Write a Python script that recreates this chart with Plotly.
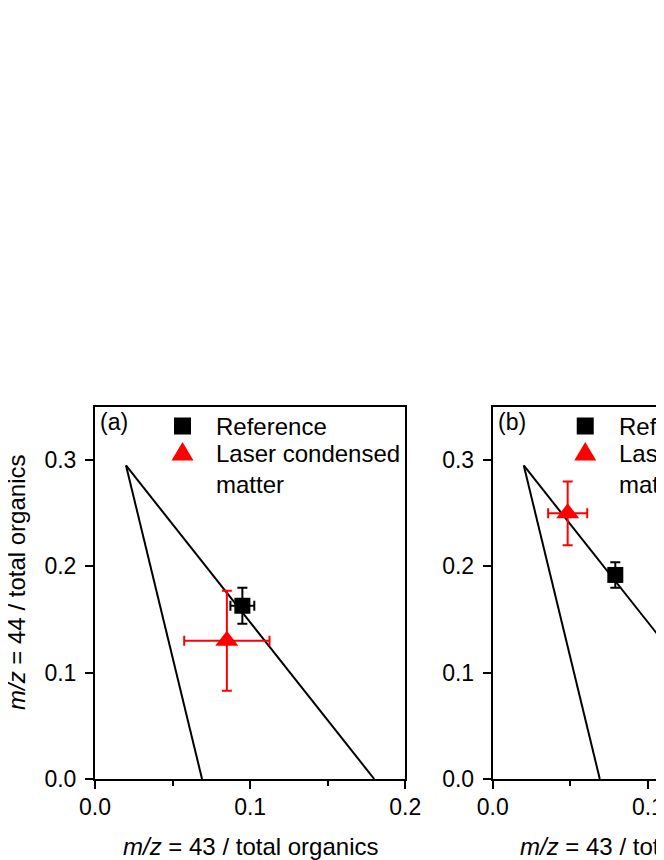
import plotly.graph_objects as go

# triangle guide lines (f43, f44)
tri_left_x = [0.02, 0.069]
tri_left_y = [0.295, 0.0]
tri_right_x = [0.02, 0.18]
tri_right_y = [0.295, 0.0]

# panel (a)
a_ref_x = [0.095]
a_ref_y = [0.163]
a_ref_ex = [0.0077]
a_ref_ey = [0.017]
a_las_x = [0.085]
a_las_y = [0.130]
a_las_ex = [0.0275]
a_las_ey = [0.047]

# panel (b)
b_ref_x = [0.079]
b_ref_y = [0.192]
b_ref_ex = [0.004]
b_ref_ey = [0.012]
b_las_x = [0.0483]
b_las_y = [0.250]
b_las_ex = [0.0126]
b_las_ey = [0.030]

x_ticks = [0.0, 0.1, 0.2]
y_ticks = [0.0, 0.1, 0.2, 0.3]

legend_names = ["Reference", "Laser condensed<br>matter"]

FONT = "Liberation Sans, Arial, sans-serif"
RED = "#ff0000"

fig = go.Figure()

panels = [
    ("x", "y", a_ref_x, a_ref_y, a_ref_ex, a_ref_ey, a_las_x, a_las_y, a_las_ex, a_las_ey),
    ("x2", "y2", b_ref_x, b_ref_y, b_ref_ex, b_ref_ey, b_las_x, b_las_y, b_las_ex, b_las_ey),
]

for xa, ya, rx, ry, rex, rey, lx, ly, lex, ley in panels:
    for lx_, ly_ in [(tri_left_x, tri_left_y), (tri_right_x, tri_right_y)]:
        fig.add_trace(go.Scatter(x=lx_, y=ly_, mode="lines", xaxis=xa, yaxis=ya,
                                 line=dict(color="black", width=2), showlegend=False,
                                 hoverinfo="skip"))
    fig.add_trace(go.Scatter(
        x=rx, y=ry, mode="markers", name=legend_names[0], xaxis=xa, yaxis=ya, showlegend=False,
        marker=dict(symbol="square", size=16, color="black"),
        error_x=dict(type="data", array=rex, color="black", thickness=2, width=5),
        error_y=dict(type="data", array=rey, color="black", thickness=2, width=5),
    ))
    fig.add_trace(go.Scatter(
        x=lx, y=ly, mode="markers", name=legend_names[1], xaxis=xa, yaxis=ya, showlegend=False,
        marker=dict(symbol="triangle-up", size=20, color=RED),
        error_x=dict(type="data", array=lex, color=RED, thickness=2, width=5),
        error_y=dict(type="data", array=ley, color=RED, thickness=2, width=5),
    ))

W, H = 823, 852
L, R, T, B = 87, 24, 399, 81
pw = W - L - R
ph = H - T - B
dom_a = [0, 312 / pw]
dom_b = [400 / pw, 1]

axis_common = dict(
    showline=True, linecolor="black", linewidth=2, mirror=True,
    ticks="outside", ticklen=8, tickwidth=2, tickcolor="black",
    showgrid=False, zeroline=False,
    tickfont=dict(family=FONT, size=23, color="black"),
)
minor_x = dict(dtick=0.05, ticks="outside", ticklen=5, tickwidth=2, tickcolor="black")

fig.update_layout(
    width=W, height=H,
    margin=dict(l=L, r=R, t=T, b=B),
    paper_bgcolor="white", plot_bgcolor="white",
    font=dict(family=FONT, size=24, color="black"),
    showlegend=False,
    xaxis=dict(domain=dom_a, range=[0, 0.2], tickvals=x_ticks, tickformat=".1f",
               minor=minor_x, ticklabelstandoff=-2, **axis_common),
    yaxis=dict(domain=[0, 1], range=[0, 0.35], tickvals=y_ticks, tickformat=".1f",
               ticklabelstandoff=4, **axis_common),
    xaxis2=dict(domain=dom_b, range=[0, 0.2], tickvals=x_ticks, tickformat=".1f", anchor="y2",
                minor=minor_x, ticklabelstandoff=-2, **axis_common),
    yaxis2=dict(domain=[0, 1], range=[0, 0.35], tickvals=y_ticks, tickformat=".1f", anchor="x2",
                ticklabelstandoff=4, **axis_common),
)

# legend drawn by hand inside each panel (symbol offset, text offset in px from panel left)
legend_pos = {"x": (88, 119), "x2": (93, 124)}
tri_path = "M -11,-6.5 L 11,-6.5 L 0,12 Z"

for xa, ya, lab in [("x", "y", "(a)"), ("x2", "y2", "(b)")]:
    xd, yd = xa + " domain", ya + " domain"
    fig.add_annotation(text=lab, xref=xd, yref=yd, x=0, y=1,
                       xanchor="left", yanchor="middle", xshift=3, yshift=-15,
                       showarrow=False, font=dict(family=FONT, size=23))
    fig.add_annotation(text="<i>m/z</i> = 43 / total organics", xref=xd,
                       yref=yd, x=0.5, y=0, xanchor="center", yanchor="middle",
                       yshift=-67, showarrow=False, font=dict(family=FONT, size=24))

    sx, tx = legend_pos[xa]
    pw_panel = 312
    fig.add_shape(type="rect", xref=xd, yref=yd, xsizemode="pixel", ysizemode="pixel",
                  xanchor=sx / pw_panel, yanchor=1 - 19 / ph, x0=-8.5, x1=8.5, y0=-8.5, y1=8.5,
                  fillcolor="black", line=dict(width=0))
    fig.add_shape(type="path", xref=xd, yref=yd, xsizemode="pixel", ysizemode="pixel",
                  xanchor=sx / pw_panel, yanchor=1 - 47 / ph, path=tri_path,
                  fillcolor=RED, line=dict(width=0))
    fig.add_annotation(text=legend_names[0], xref=xd, yref=yd, x=0, y=1, xshift=tx, yshift=-19,
                       xanchor="left", yanchor="middle", showarrow=False,
                       font=dict(family=FONT, size=24))
    fig.add_annotation(text=legend_names[1], xref=xd, yref=yd, x=0, y=1, xshift=tx, yshift=-62,
                       xanchor="left", yanchor="middle", align="left", showarrow=False,
                       font=dict(family=FONT, size=24))

fig.add_annotation(text="<i>m/z</i> = 44 / total organics", xref="x domain", yref="y domain",
                   x=0, y=0.5, xanchor="center", yanchor="middle", xshift=-79, yshift=10,
                   textangle=-90, showarrow=False, font=dict(family=FONT, size=24))

fig.write_html("out.html")
